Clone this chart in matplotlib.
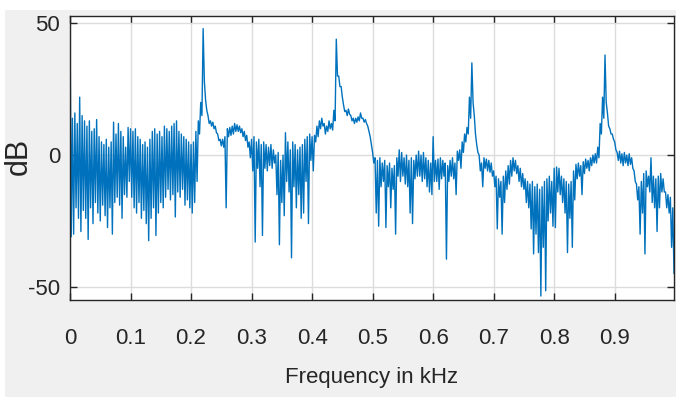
import numpy as np
import matplotlib
matplotlib.use("Agg")
import matplotlib.pyplot as plt
from matplotlib.patches import Rectangle

# spectrum in 4 Hz bins: highest and lowest level reached inside each bin (dB)
bin_khz = 0.004
level_hi = [
    55, 14, 16, 12, 22, 15, 13, 11, 13, 9,
    10, 13.5, 7, 5, 4, 6, 3, 5, 12.5, 8,
    12, 9, 7, 3, 10.5, 10, 9, 10, 7, 6,
    4, 5, 3, 6, 9, 10, 8, 9, 7, 11,
    10, 9, 11, 12, 13, 9, 8, 7, 6, 5,
    4, 5, 9, 13, 20, 48, 21, 15, 13, 12.5,
    11, 8, 6, 6, 7, 10, 10.5, 11, 12, 11.5,
    11, 10, 9, 7.5, 5, 6, 7, 5, 6, 4,
    5, 4, 3, 4, 2, 0, 1, -2, 0, 8.5,
    5, 2, 5, 4, 2, 3, 4, 6, 7, 8,
    7, 7.5, 11, 13, 14, 12, 11, 13, 12, 17,
    44, 30, 26, 19, 17, 17.5, 15, 14, 14, 14.5,
    16, 14, 13.5, 11, 7, 1, -1, -2, -1, -3,
    -2, -4, -3, -5, -4, -1, 2, 1, -1, 0,
    -2, -1, -2, 0, 1.5, 0, 1, -1, -2, -3,
    7, -2, -1.5, -1, -2, -3, -4, -2, -1, -3,
    1.5, 2, 5, 8, 10.5, 22, 35, 15, 4, 0,
    -3, -1, -1.5, -2, -3, -6, -8, -9, -10, -8,
    -6, -4, -2, -1, -2, -4, -5, -7, -9, -10,
    -11, -10, -12, -11, -13, -12, -10, -9, -8, -10,
    -5, -4.5, -5, -8, -9, -10, -11, -10, -6, -3.5,
    -3, -4, -2.5, -1.5, -2, -1, 0, 0.5, 3, 12,
    22, 38, 16, 10, 8, 5, 1, 1.5, 0.5, 1,
    0, 0.5, -1, -6, -11, -12, -10, -7, -6, -8,
    -1, -8, -9, -8, -7, -9, -14, -15, -16, -20,
    -22,
]
level_lo = [
    -31, -30, -20, -24, -29, -21, -24, -32, -20, -26,
    -18, -22, -25, -19, -23, -27.5, -20, -30, -18, -16,
    -19, -24, -15, -16, -10, -16, -20, -22, -18, -24,
    -21, -26, -32.5, -24, -20, -30.5, -22, -18, -20, -16,
    -13, -17, -15, -23.5, -14, -16, -13, -19, -17, -20,
    -22, -18, -10, 8, 15, 28, 17, 12, 11, 10,
    8.5, 5.5, 3.5, 3, -20, 7, 7.5, 8, 9, 9,
    8.5, 7, 5.5, 3, -1, -6, -33, -5, -12, -30.5,
    -5, -6, -4, -5, -3, -15, -34, -18, -23, -10,
    -14, -39, -12, -20, -15, -24, -22, -10, -26, -2,
    -6, 5, 7, 10, 11, 8, 9, 10, 9.5, 13,
    30, 26, 22, 16.5, 15, 15.5, 13, 12, 12.5, 13,
    14, 12.5, 12, 9, 4, -3, -22, -27, -12, -10,
    -27.5, -12, -20, -13, -30, -8, -10, -8, -11, -12,
    -22, -26, -9, -8, -8, -10, -9, -12, -14, -15,
    -10, -10, -13, -9, -8, -39.5, -10, -8, -9, -15,
    -2, -5, 1, 5, 8, 14, 20, 8, 1, -6,
    -12, -5, -6, -6.5, -8, -12, -28, -16, -30, -18,
    -13, -11, -8, -6, -7, -10, -12, -13, -18, -20,
    -28, -37.5, -30, -37, -53.5, -35, -51.5, -25, -22, -27,
    -27.5, -14, -15, -18, -22, -37, -24, -35, -17, -9,
    -8, -15, -7, -5, -6, -4, -3, -3, -1, 8,
    14, 20, 11, 8, 6, 2, -2, -3, -4, -3,
    -4, -3.5, -5, -10, -17, -30, -22, -37.5, -12, -14,
    -18, -20, -29, -20, -14, -14, -20, -22, -35, -45,
    -55,
]
freq_ticks = [0, 0.1, 0.2, 0.3, 0.4, 0.5, 0.6, 0.7, 0.8, 0.9]
db_ticks = [-50, 0, 50]

freq = np.arange(len(level_hi)) * bin_khz
f_line = np.column_stack([freq, freq + bin_khz / 2]).ravel()
db_line = np.column_stack([level_hi, level_lo]).ravel()

plt.rcParams['font.family'] = ['Liberation Sans', 'DejaVu Sans']
plt.rcParams['axes.unicode_minus'] = False

W, H = 680, 397
fig = plt.figure(figsize=(W / 100, H / 100), dpi=100, facecolor='white')
fig.patches.append(Rectangle((5 / W, 0), (676 - 5) / W, (H - 10) / H,
                             transform=fig.transFigure, facecolor='#f0f0f0',
                             edgecolor='none', zorder=-10))

ax = fig.add_axes([70 / W, (H - 300) / H, (674 - 70) / W, (300 - 16) / H])
ax.set_facecolor('white')
ax.plot(f_line, db_line, color='#0072BD', lw=1.0)

ax.set_xlim(0, 0.998)
ax.set_ylim(-55, 52.8)
ax.set_xticks(freq_ticks)
ax.set_xticklabels([f'{t:g}' for t in freq_ticks])
ax.set_yticks(db_ticks)
ax.grid(True, color='#dcdcdc', lw=1.0)
ax.set_axisbelow(True)
for s in ax.spines.values():
    s.set_color('#262626')
    s.set_linewidth(1.0)
ax.tick_params(direction='in', length=5, width=1.0, color='#262626',
               top=True, right=True, labelsize=16, labelcolor='#262626')
ax.tick_params(axis='x', pad=20)
ax.tick_params(axis='y', pad=7)

fig.text(372 / W, 1 - 378 / H, 'Frequency in kHz', fontsize=16,
         color='#262626', ha='center', va='center')
fig.text(19 / W, 1 - 156 / H, 'dB', fontsize=22, rotation=90,
         color='#262626', ha='center', va='center')

fig.savefig('out.png', dpi=100, facecolor=fig.get_facecolor())
